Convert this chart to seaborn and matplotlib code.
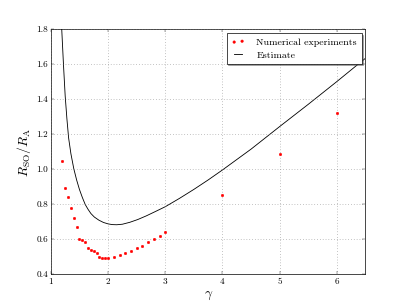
import matplotlib
matplotlib.use("Agg")
import matplotlib.pyplot as plt
import seaborn as sns
import pandas as pd

# Numerical experiments
gamma_exp = [1.20, 1.25, 1.30, 1.35, 1.40, 1.45, 1.50, 1.55, 1.60, 1.65, 1.70,
             1.75, 1.80, 1.85, 1.90, 1.95, 2.00,
             2.1, 2.2, 2.3, 2.4, 2.5, 2.6, 2.7, 2.8, 2.9, 3.0,
             4.0, 5.0, 6.0]
ratio_exp = [1.050, 0.892, 0.842, 0.777, 0.720, 0.670, 0.604, 0.597, 0.584,
             0.553, 0.540, 0.532, 0.522, 0.497, 0.494, 0.494, 0.494,
             0.497, 0.509, 0.522, 0.536, 0.549, 0.562, 0.584, 0.603, 0.618, 0.641,
             0.854, 1.088, 1.324]

# Estimate curve
gamma_est = [1.175, 1.19, 1.22, 1.25, 1.28, 1.31, 1.35, 1.40, 1.45, 1.50, 1.55,
             1.60, 1.65, 1.70, 1.76, 1.84, 1.92, 2.00, 2.07, 2.15, 2.25, 2.38,
             2.52, 2.67, 2.83, 3.00, 3.25, 3.50, 3.75, 4.00, 4.50, 5.00, 5.50,
             6.00, 6.30, 6.50]
ratio_est = [1.90, 1.80, 1.60, 1.42, 1.29, 1.18, 1.09, 1.005, 0.940, 0.885, 0.840,
             0.800, 0.772, 0.748, 0.728, 0.710, 0.697, 0.689, 0.685, 0.684, 0.687, 0.698,
             0.714, 0.735, 0.760, 0.787, 0.835, 0.886, 0.940, 0.997, 1.116, 1.245, 1.372,
             1.502, 1.582, 1.635]

x_ticks = [1, 2, 3, 4, 5, 6]
y_ticks = [0.4, 0.6, 0.8, 1.0, 1.2, 1.4, 1.6, 1.8]

plt.style.use("classic")
plt.rcParams["font.family"] = "serif"
plt.rcParams["font.serif"] = ["cmr10", "DejaVu Serif"]
plt.rcParams["mathtext.fontset"] = "cm"
plt.rcParams["axes.formatter.use_mathtext"] = True

df_exp = pd.DataFrame({"gamma": gamma_exp, "ratio": ratio_exp})
df_est = pd.DataFrame({"gamma": gamma_est, "ratio": ratio_est})

fig, ax = plt.subplots(figsize=(8, 6), dpi=50.875)
fig.subplots_adjust(left=0.125, right=0.898, bottom=0.1, top=0.903)

sns.scatterplot(data=df_exp, x="gamma", y="ratio", ax=ax, color="red",
                edgecolor="red", marker="o", s=14, linewidth=0.5,
                label="Numerical experiments", zorder=3)
sns.lineplot(data=df_est, x="gamma", y="ratio", ax=ax, color="black",
             linewidth=1.2, sort=False, estimator=None,
             label="Estimate", zorder=2)

ax.set_xlim(1, 6.5)
ax.set_ylim(0.4, 1.8)
ax.set_xticks(x_ticks)
ax.set_yticks(y_ticks)
ax.set_xticklabels([str(t) for t in x_ticks])
ax.set_yticklabels([f"{t:.1f}" for t in y_ticks])
ax.tick_params(labelsize=13)
ax.grid(True, color="0.45", linestyle=":", linewidth=0.8)
ax.set_xlabel(r"$\gamma$", fontsize=19)
ax.set_ylabel(r"$R_{\mathrm{SO}}/R_{\mathrm{A}}$", fontsize=19)

leg = ax.legend(loc="upper right", fontsize=14, shadow=True, fancybox=False,
                numpoints=2, scatterpoints=2, borderaxespad=0.4,
                handlelength=1.4, handletextpad=1.15, borderpad=0.45,
                labelspacing=0.4)

fig.savefig("out.png", dpi=50.875)
